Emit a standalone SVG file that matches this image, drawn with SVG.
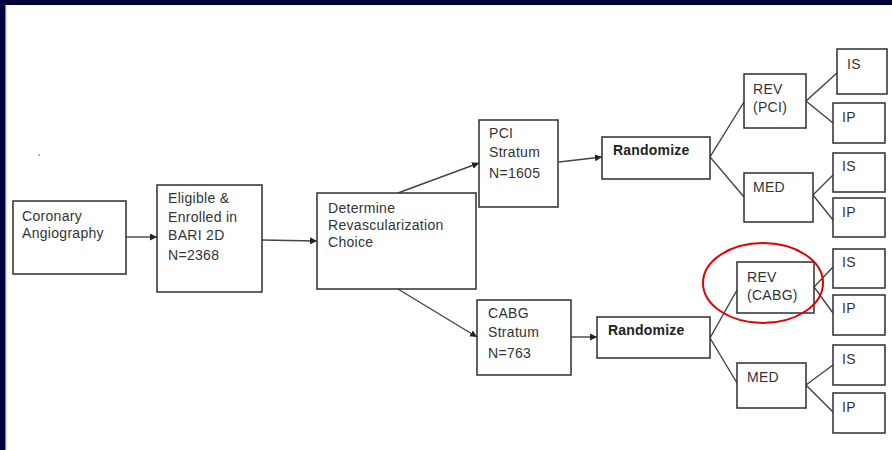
<svg xmlns="http://www.w3.org/2000/svg" width="892" height="450" viewBox="0 0 892 450">
<defs>
<style>
.b{fill:#fff;stroke:#2e2e2e;stroke-width:1.5}
.t{font-family:"Liberation Sans",Arial,sans-serif;font-size:14px;letter-spacing:0.3px;fill:#333}
.tb{font-family:"Liberation Sans",Arial,sans-serif;font-size:14px;letter-spacing:0.2px;font-weight:bold;fill:#222}
.c{stroke:#444;stroke-width:1.4;fill:none}
</style>
<marker id="ah" viewBox="0 0 10 10" refX="10" refY="5" markerWidth="7" markerHeight="7" markerUnits="userSpaceOnUse" orient="auto">
<path d="M0,0 L10,5 L0,10 z" fill="#222"/>
</marker>
</defs>
<rect x="0" y="0" width="892" height="450" fill="#fff"/>
<rect x="0" y="0" width="892" height="5" fill="#000038"/>
<rect x="0" y="0" width="5" height="450" fill="#000040"/>
<rect x="5" y="5" width="1.2" height="445" fill="#6f7fe0"/>
<circle cx="39" cy="155" r="1" fill="#999"/>

<g id="connectors">
<line class="c" x1="126" y1="237" x2="157" y2="237" marker-end="url(#ah)"/>
<line class="c" x1="262" y1="240" x2="317" y2="241" marker-end="url(#ah)"/>
<line class="c" x1="398" y1="193" x2="479" y2="163" marker-end="url(#ah)"/>
<line class="c" x1="398" y1="289" x2="477" y2="337" marker-end="url(#ah)"/>
<line class="c" x1="559" y1="162" x2="602" y2="157" marker-end="url(#ah)"/>
<line class="c" x1="571" y1="337" x2="597" y2="337" marker-end="url(#ah)"/>
<polyline class="c" points="744,102 710,157 744,197"/>
<polyline class="c" points="837,73 806,101 833,123"/>
<polyline class="c" points="833,175 813,195 833,220"/>
<polyline class="c" points="737,290 710,338 737,383"/>
<polyline class="c" points="833,267 814,287 833,313"/>
<polyline class="c" points="833,365 806,385 833,412"/>
</g>

<g id="coronary"><rect class="b" x="13" y="201" width="113" height="73"/><text class="t" x="22" y="221">Coronary</text><text class="t" x="22" y="238">Angiography</text></g>
<g id="eligible"><rect class="b" x="157" y="185" width="105" height="107"/><text class="t" x="168" y="203">Eligible &amp;</text><text class="t" x="168" y="222">Enrolled in</text><text class="t" x="168" y="240">BARI 2D</text><text class="t" x="168" y="260">N=2368</text></g>
<g id="determine"><rect class="b" x="317" y="193" width="159" height="96"/><text class="t" x="328" y="213">Determine</text><text class="t" x="328" y="230">Revascularization</text><text class="t" x="328" y="247">Choice</text></g>
<g id="pci"><rect class="b" x="479" y="120" width="79" height="87"/><text class="t" x="489" y="138">PCI</text><text class="t" x="489" y="157">Stratum</text><text class="t" x="489" y="178">N=1605</text></g>
<g id="cabg"><rect class="b" x="477" y="300" width="94" height="75"/><text class="t" x="488" y="318">CABG</text><text class="t" x="488" y="337">Stratum</text><text class="t" x="488" y="358">N=763</text></g>
<g id="rand1"><rect class="b" x="602" y="137" width="108" height="42"/><text class="tb" x="613" y="155">Randomize</text></g>
<g id="rand2"><rect class="b" x="597" y="317" width="113" height="41"/><text class="tb" x="608" y="335">Randomize</text></g>
<g id="revpci"><rect class="b" x="744" y="74" width="62" height="54"/><text class="t" x="753" y="94">REV</text><text class="t" x="753" y="112">(PCI)</text></g>
<g id="med1"><rect class="b" x="744" y="173" width="69" height="49"/><text class="t" x="753" y="192">MED</text></g>
<g id="revcabg"><rect class="b" x="737" y="262" width="77" height="51"/><text class="t" x="747" y="282">REV</text><text class="t" x="747" y="300">(CABG)</text></g>
<g id="med2"><rect class="b" x="737" y="363" width="69" height="45"/><text class="t" x="747" y="382">MED</text></g>
<g id="is1"><rect class="b" x="837" y="49" width="50" height="45"/><text class="t" x="847" y="69">IS</text></g>
<g id="ip1"><rect class="b" x="833" y="103" width="52" height="40"/><text class="t" x="842" y="122">IP</text></g>
<g id="is2"><rect class="b" x="833" y="153" width="52" height="39"/><text class="t" x="842" y="171">IS</text></g>
<g id="ip2"><rect class="b" x="833" y="198" width="52" height="39"/><text class="t" x="842" y="217">IP</text></g>
<g id="is3"><rect class="b" x="833" y="249" width="52" height="39"/><text class="t" x="842" y="267">IS</text></g>
<g id="ip3"><rect class="b" x="833" y="295" width="52" height="40"/><text class="t" x="842" y="313">IP</text></g>
<g id="is4"><rect class="b" x="833" y="345" width="52" height="40"/><text class="t" x="842" y="364">IS</text></g>
<g id="ip4"><rect class="b" x="833" y="393" width="52" height="40"/><text class="t" x="842" y="412">IP</text></g>

<ellipse cx="763" cy="283" rx="60" ry="40" fill="none" stroke="#e00000" stroke-width="2"/>
</svg>
